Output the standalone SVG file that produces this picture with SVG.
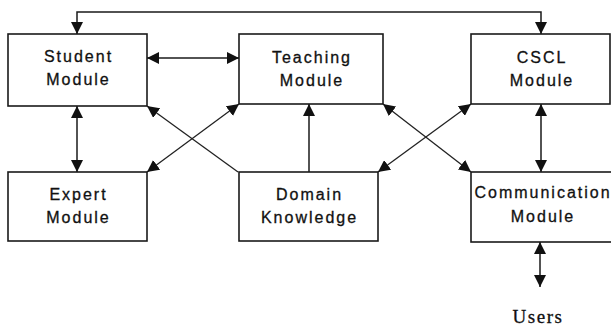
<svg xmlns="http://www.w3.org/2000/svg" width="611" height="327" viewBox="0 0 611 327">
<style>
.box{fill:#fff;stroke:#1a1a1a;stroke-width:1.6}
.lbl{font-family:"Liberation Sans",Arial,sans-serif;font-size:16px;letter-spacing:2px;fill:#111;stroke:#111;stroke-width:0.3;text-anchor:middle}
.ln{fill:none;stroke:#1a1a1a;stroke-width:1.5}
.dg{fill:none;stroke:#222;stroke-width:1.3}
.users{font-family:"Liberation Serif","Times New Roman",serif;font-size:19px;letter-spacing:1.5px;fill:#111;stroke:#111;stroke-width:0.3;text-anchor:middle}
</style>
<defs>
<marker id="ah" viewBox="0 0 12 12" refX="12" refY="6" markerWidth="12" markerHeight="12" markerUnits="userSpaceOnUse" orient="auto-start-reverse">
<path d="M0,0 L12,6 L0,12 Z" fill="#111"/>
</marker>
</defs>
<rect width="611" height="327" fill="#fff"/>
<g id="connectors">
<path class="ln" d="M77,34 V12 H541 V34" marker-start="url(#ah)" marker-end="url(#ah)"/>
<line class="ln" x1="147" y1="58" x2="239" y2="58" marker-start="url(#ah)" marker-end="url(#ah)"/>
<line class="ln" x1="77" y1="106" x2="77" y2="172" marker-start="url(#ah)" marker-end="url(#ah)"/>
<line class="ln" x1="309" y1="172" x2="309" y2="104" marker-end="url(#ah)"/>
<line class="dg" x1="238" y1="172" x2="147" y2="106" marker-end="url(#ah)"/>
<line class="dg" x1="239" y1="104" x2="147" y2="172" marker-start="url(#ah)" marker-end="url(#ah)"/>
<line class="dg" x1="383" y1="104" x2="471" y2="172" marker-start="url(#ah)" marker-end="url(#ah)"/>
<line class="dg" x1="471" y1="104" x2="378" y2="172" marker-start="url(#ah)" marker-end="url(#ah)"/>
<line class="ln" x1="541" y1="104" x2="541" y2="172" marker-start="url(#ah)" marker-end="url(#ah)"/>
<line class="ln" x1="540" y1="242" x2="540" y2="287" marker-start="url(#ah)" marker-end="url(#ah)"/>
</g>
<g id="student">
<rect class="box" x="8" y="34" width="139" height="72"/>
<text class="lbl" x="78.5" y="62">Student</text>
<text class="lbl" x="78.5" y="85">Module</text>
</g>
<g id="teaching">
<rect class="box" x="239" y="34" width="144" height="70"/>
<text class="lbl" x="312" y="63">Teaching</text>
<text class="lbl" x="312" y="86">Module</text>
</g>
<g id="cscl">
<rect class="box" x="471" y="34" width="139" height="70"/>
<text class="lbl" x="542" y="63">CSCL</text>
<text class="lbl" x="542" y="86">Module</text>
</g>
<g id="expert">
<rect class="box" x="8" y="172" width="139" height="69"/>
<text class="lbl" x="78.5" y="200">Expert</text>
<text class="lbl" x="78.5" y="223">Module</text>
</g>
<g id="domain">
<rect class="box" x="239" y="172" width="139" height="69"/>
<text class="lbl" x="309.5" y="200">Domain</text>
<text class="lbl" x="309.5" y="223">Knowledge</text>
</g>
<g id="communication">
<rect class="box" x="471" y="172" width="145" height="70"/>
<text class="lbl" x="543" y="198">Communication</text>
<text class="lbl" x="543" y="222">Module</text>
</g>
<g id="users">
<text class="users" x="538" y="323">Users</text>
</g>
</svg>
